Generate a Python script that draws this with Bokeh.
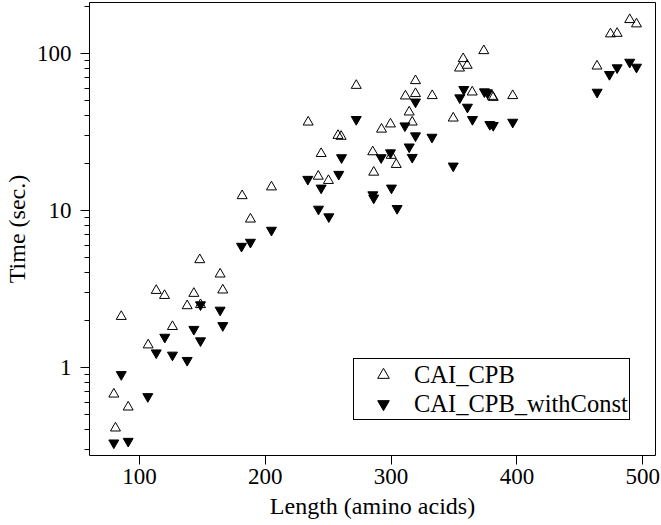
from bokeh.plotting import figure
from bokeh.models import FixedTicker, NumeralTickFormatter, Legend, LegendItem, ColumnDataSource
from bokeh.embed import file_html
from bokeh.resources import INLINE

# Data
cai_len = [85.5, 113.3, 119.9, 143.2, 137.9, 164.1, 166.2, 126.2, 106.9, 79.6,
           91.0, 80.9, 148.5, 147.9, 181.6, 188.2, 204.9, 234.1, 242.1, 244.4,
           250.2, 257.8, 260.3, 272.3, 285.4, 286.2, 292.4, 299.5, 300.1, 304.1,
           311.4, 314.4, 316.8, 319.4, 319.4, 332.7, 349.4, 354.4, 357.3, 360.5,
           364.5, 373.7, 380.4, 381.2, 396.7, 463.7, 474.4, 479.7, 489.7, 495.1]
cai_time = [2.11, 3.09, 2.87, 2.96, 2.47, 3.93, 3.11, 1.82, 1.39, 0.676,
            0.559, 0.411, 2.51, 4.85, 12.4, 8.80, 14.1, 36.5, 16.5, 23.0,
            15.5, 30.0, 29.6, 62.5, 23.6, 17.5, 32.9, 35.5, 22.4, 19.6,
            53.5, 42.3, 36.5, 67.0, 55.4, 53.8, 38.7, 80.6, 92.5, 83.9,
            56.7, 104, 53.2, 52.4, 53.8, 83.0, 133, 134, 164, 154]

const_len = [85.5, 106.6, 113.3, 120.1, 126.2, 137.9, 143.2, 148.5, 164.1, 166.2,
             79.6, 91.0, 148.5, 181.1, 188.2, 204.9, 233.8, 242.3, 244.4, 250.5,
             258.4, 260.6, 272.3, 285.5, 286.2, 292.1, 299.5, 300.3, 304.8, 311.0,
             314.4, 316.8, 319.4, 319.4, 332.5, 349.4, 354.6, 357.8, 360.7, 364.7,
             374.2, 376.6, 378.5, 381.2, 396.7, 463.8, 473.6, 479.7, 489.7, 495.1]
const_time = [0.902, 0.653, 1.24, 1.56, 1.20, 1.11, 1.75, 1.48, 2.32, 1.85,
              0.331, 0.339, 2.51, 5.92, 6.28, 7.49, 15.8, 10.2, 13.9, 9.12,
              17.0, 21.7, 38.0, 12.6, 12.0, 21.7, 23.3, 13.9, 10.3, 34.6,
              25.4, 21.8, 49.1, 29.9, 29.3, 19.2, 52.2, 59.0, 45.5, 38.0,
              57.0, 56.2, 35.3, 34.8, 36.5, 56.7, 73.5, 81.1, 88.0, 81.8]

x_ticks = [100, 200, 300, 400, 500]
y_ticks = [1, 10, 100]
y_minor = [0.3, 0.4, 0.5, 0.6, 0.7, 0.8, 0.9, 2, 3, 4, 5, 6, 7, 8, 9,
           20, 30, 40, 50, 60, 70, 80, 90, 200]

FONT = "Liberation Serif"

p = figure(width=661, height=525, output_backend="svg", toolbar_location=None,
           y_axis_type="log", x_range=(60.25, 510.2), y_range=(0.275, 211),
           min_border_left=89, min_border_right=6, min_border_top=2, min_border_bottom=70)
p.background_fill_color = "white"
p.border_fill_color = "white"
p.outline_line_color = "black"
p.outline_line_alpha = 1.0
p.outline_line_width = 1
p.grid.visible = False

src1 = ColumnDataSource(dict(x=cai_len, y=cai_time))
src2 = ColumnDataSource(dict(x=const_len, y=const_time))
r1 = p.scatter("x", "y", source=src1, marker="triangle", size=10,
               fill_color=None, line_color="black", line_width=1)
r2 = p.scatter("x", "y", source=src2, marker="inverted_triangle", size=10,
               fill_color="black", line_color="black", line_width=1)

for ax in (p.xaxis[0], p.yaxis[0]):
    ax.axis_line_color = None
    ax.major_tick_in = 0
    ax.major_tick_out = 9
    ax.minor_tick_in = 0
    ax.minor_tick_out = 5
    ax.major_tick_line_color = "black"
    ax.minor_tick_line_color = "black"
    ax.major_label_text_font = FONT
    ax.major_label_text_font_size = "23px"
    ax.major_label_text_color = "black"
    ax.axis_label_text_font = FONT
    ax.axis_label_text_font_size = "24px"
    ax.axis_label_text_font_style = "normal"
    ax.axis_label_text_color = "black"

p.xaxis.ticker = FixedTicker(ticks=x_ticks, minor_ticks=[])
p.yaxis.ticker = FixedTicker(ticks=y_ticks, minor_ticks=y_minor)
p.yaxis.formatter = NumeralTickFormatter(format="0")
p.xaxis.axis_label = "Length (amino acids)"
p.yaxis.axis_label = "Time (sec.)"
p.xaxis.major_label_standoff = 4
p.xaxis.axis_label_standoff = 6
p.yaxis.major_label_standoff = 9
p.yaxis.axis_label_standoff = 4

legend = Legend(items=[LegendItem(label="CAI_CPB", renderers=[r1]),
                       LegendItem(label="CAI_CPB_withConst", renderers=[r2])],
                location=(264, 35))
legend.label_text_font = FONT
legend.label_text_font_size = "24.5px"
legend.label_text_color = "black"
legend.border_line_color = "black"
legend.border_line_alpha = 1.0
legend.border_line_width = 1
legend.background_fill_color = "white"
legend.background_fill_alpha = 1.0
legend.padding = 1
legend.margin = 0
legend.spacing = 0
legend.glyph_width = 56
legend.glyph_height = 29
legend.label_height = 29
legend.label_standoff = 3
p.add_layout(legend, "center")

open("out.html", "w").write(file_html(p, INLINE))
